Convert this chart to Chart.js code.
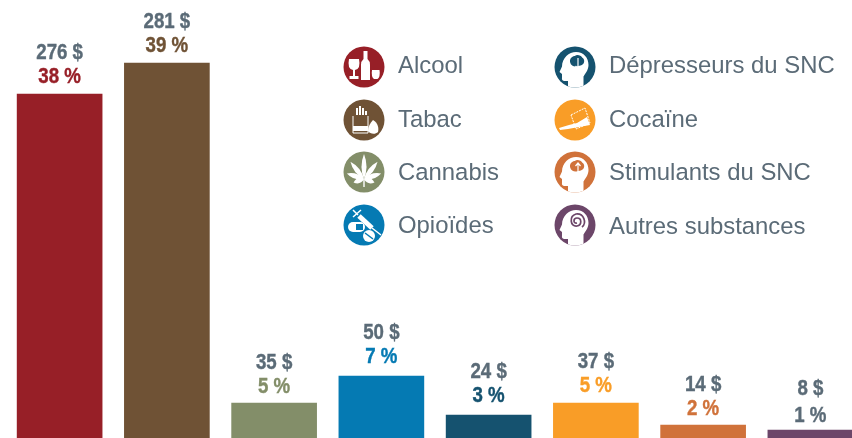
<!DOCTYPE html>
<html lang="fr">
<head>
<meta charset="utf-8">
<title>Coûts par substance</title>
<script src="https://cdn.jsdelivr.net/npm/chart.js@4/dist/chart.umd.min.js"></script>
<style>
  html, body { margin: 0; padding: 0; background: #fff; overflow: hidden; }
  #wrap { position: relative; width: 852px; height: 438px; overflow: hidden; }
  #chart { position: absolute; left: 0; top: 0; }
  .item { position: absolute; height: 42px; white-space: nowrap;
          font: 23.900px/42px "Liberation Sans", Arial, sans-serif; color: #5b6b77; }
  .item svg { position: absolute; left: 0; top: 0; width: 42px; height: 42px; }
  .item span { position: absolute; left: 55px; }
</style>
</head>
<body>
<div id="wrap">
  <canvas id="chart"></canvas>
  <div id="legend"></div>
</div>
<script>
const categories = ['Alcool', 'Tabac', 'Cannabis', 'Opioïdes', 'Dépresseurs du SNC', 'Cocaïne', 'Stimulants du SNC', 'Autres substances'];
// bar heights, they are not proportional to the printed amounts
const barValues = [344, 375, 35, 62, 23, 35, 13, 8];
const dollarLabels = ['276 $', '281 $', '35 $', '50 $', '24 $', '37 $', '14 $', '8 $'];
const percentLabels = ['38 %', '39 %', '5 %', '7 %', '3 %', '5 %', '2 %', '1 %'];
const colors = ['#971f27', '#6f5235', '#838e69', '#057ab3', '#15526f', '#f99d27', '#d0723a', '#6c4669'];
const percentColors = ['#971f27', '#6f5235', '#838e69', '#057ab3', '#15526f', '#f99d27', '#d0723a', '#5b6b77'];
const GREY = '#5b6b77';

// the labels do not sit at a constant distance from the bars
const dollarLift = [35, 35, 34, 37, 37, 35, 34, 35];
const percentLift = [11, 11, 10, 13, 13, 11, 10, 8];

// white glyph drawn inside each legend disc
const head = '<path d="M-7 21V14H-11Q-13.500 13.500-13 10.500L-13 7-15.500 5-13-.5C-13-9-6-15 1-15 9-15 13.500-9 13.500-2 13.500 3 10 7 8.500 9.500V21Z" fill="#fff"/>';
const brain = c => `<path transform="translate(1.500 -1.500) scale(.8)" d="M-8-4C-9-9-5-12-2-12 0-14 6-13 7-10 11-8 10-2 7-1 5 1 3 0 1 1-2 2-7 1-8-4Z" fill="${c}"/>`;
const leaflet = (angle, len) => `<path transform="translate(0 7) rotate(${angle})" d="M0 0Q5-${len * 0.5} 0-${len}Q-5-${len * 0.5} 0 0Z"/>`;
const icons = [
  // alcool
  '<g fill="#fff"><path d="M-.5-16H3.500V-8Q6-6 6-2V13H-3V-2Q-3-6-.5-8Z"/><path d="M-15-8H-5Q-3 2-9 3V9H-5.500V12H-14.500V9H-11V3Q-17 2-15-8Z"/><path d="M8 3H15.500Q16.500 10 13.500 12H10Q7 10 8 3Z"/></g>',
  // tabac
  '<g fill="none" stroke="#fff"><path d="M-11-4V13H4V-4" stroke-width="1"/><path d="M-7-5V-12M-4-5V-14M-1-5V-12M2-5V-9" stroke-width="2"/></g><rect x="-11" y="6" width="15" height="5" fill="#fff"/><path d="M9 0C14 3 15 8 14 12 11 15 6 14 4 11 4 7 6 3 9 0Z" fill="#fff"/>',
  // cannabis
  '<g fill="#fff">' + leaflet(0, 25) + leaflet(38, 22) + leaflet(-38, 22) + leaflet(72, 18) + leaflet(-72, 18) + leaflet(108, 11) + leaflet(-108, 11) + '<rect x="-.7" y="7" width="1.400" height="8"/></g>',
  // opioides
  '<g stroke="#fff" fill="none"><path d="M-5-9L8 3" stroke-width="5"/><path d="M8 3L17 10M-11-15L-6-10M-11-8L-3-15" stroke-width="1.500"/></g><rect x="-16" y="-3" width="17" height="10" rx="5" fill="#fff"/><rect x="-8" y="-1" width="7" height="6" fill="#057ab3"/><circle cx="5" cy="11" r="6" fill="#fff"/><path d="M1 8L9 14" stroke="#057ab3" stroke-width="1.500"/>',
  // depresseurs
  head + brain('#15526f') + '<path d="M3-9V1M.5-1L3 2 5.500-1" stroke="#fff" stroke-width="1.200" fill="none"/>',
  // cocaine
  '<path fill="#fff" d="M-16 8L-6 5 2 3 12-3 15 5-7 9-15 10Z"/><path fill="none" stroke="#fff" d="M-4-5L10-12 15 3 1 9Z" stroke-width="1" stroke-dasharray="2 1"/>',
  // stimulants
  head + brain('#d0723a') + '<path d="M3 2V-9M.5-6L3-9 5.500-6" stroke="#fff" stroke-width="1.200" fill="none"/>',
  // autres
  head + '<path d="M2-2C-2-1-2-7 2-7 7-7 7 0 2 1-5 2-6-9 1-11 9-12 12-2 7 2" fill="none" stroke="#6c4669" stroke-width="1.700"/>'
];

// left column then right column, same rows
const legendX = [343, 554];
const legendY = [46, 99, 151, 204];
const textShift = [-2, -1, 0, 0, -2, -1, 0, 1];
const legendEl = document.getElementById('legend');
categories.forEach((name, i) => {
  const col = i < 4 ? 0 : 1;
  const el = document.createElement('div');
  el.className = 'item';
  el.style.left = legendX[col] + 'px';
  el.style.top = legendY[i % 4] + 'px';
  el.innerHTML = `<svg viewBox="-21 -21 42 42"><defs><clipPath id="c${i}"><circle r="20.500"/></clipPath></defs>` +
    `<circle r="20.500" fill="${colors[i]}"/><g clip-path="url(#c${i})">${icons[i]}</g></svg>` +
    `<span style="top:${textShift[i]}px">${name}</span>`;
  legendEl.appendChild(el);
});

// two lines above each bar, no datalabels plugin in the sandbox
const NARROW = 0.85; // no condensed bold installed, squeeze the regular one
const barLabels = {
  id: 'barLabels',
  afterDatasetsDraw(chart) {
    const ctx = chart.ctx;
    chart.getDatasetMeta(0).data.forEach((bar, i) => {
      ctx.save();
      ctx.translate(bar.x, bar.y);
      ctx.scale(NARROW, 1);
      ctx.textAlign = 'center';
      ctx.textBaseline = 'alphabetic';
      ctx.font = 'bold 22px "Liberation Sans", sans-serif';
      ctx.lineWidth = 0.4;
      ctx.fillStyle = ctx.strokeStyle = GREY;
      ctx.fillText(dollarLabels[i], 0, -dollarLift[i]);
      ctx.strokeText(dollarLabels[i], 0, -dollarLift[i]);
      ctx.fillStyle = ctx.strokeStyle = percentColors[i];
      ctx.fillText(percentLabels[i], 0, -percentLift[i]);
      ctx.strokeText(percentLabels[i], 0, -percentLift[i]);
      ctx.restore();
    });
  }
};

const canvas = document.getElementById('chart');
// the last band runs past the right edge of the window, the canvas is clipped by #wrap
canvas.style.width = '864px';
canvas.style.height = '438px';
new Chart(canvas, {
  type: 'bar',
  data: {
    labels: categories,
    datasets: [{
      data: barValues,
      backgroundColor: colors,
      barThickness: 85,
      borderWidth: 0
    }]
  },
  options: {
    responsive: false,
    animation: false,
    layout: { padding: { left: 6, right: 0, top: 0, bottom: 0 } },
    plugins: { legend: { display: false }, tooltip: { enabled: false } },
    scales: {
      x: { display: false },
      y: { display: false, min: 0, max: 438 }
    }
  },
  plugins: [barLabels]
});
</script>
</body>
</html>
